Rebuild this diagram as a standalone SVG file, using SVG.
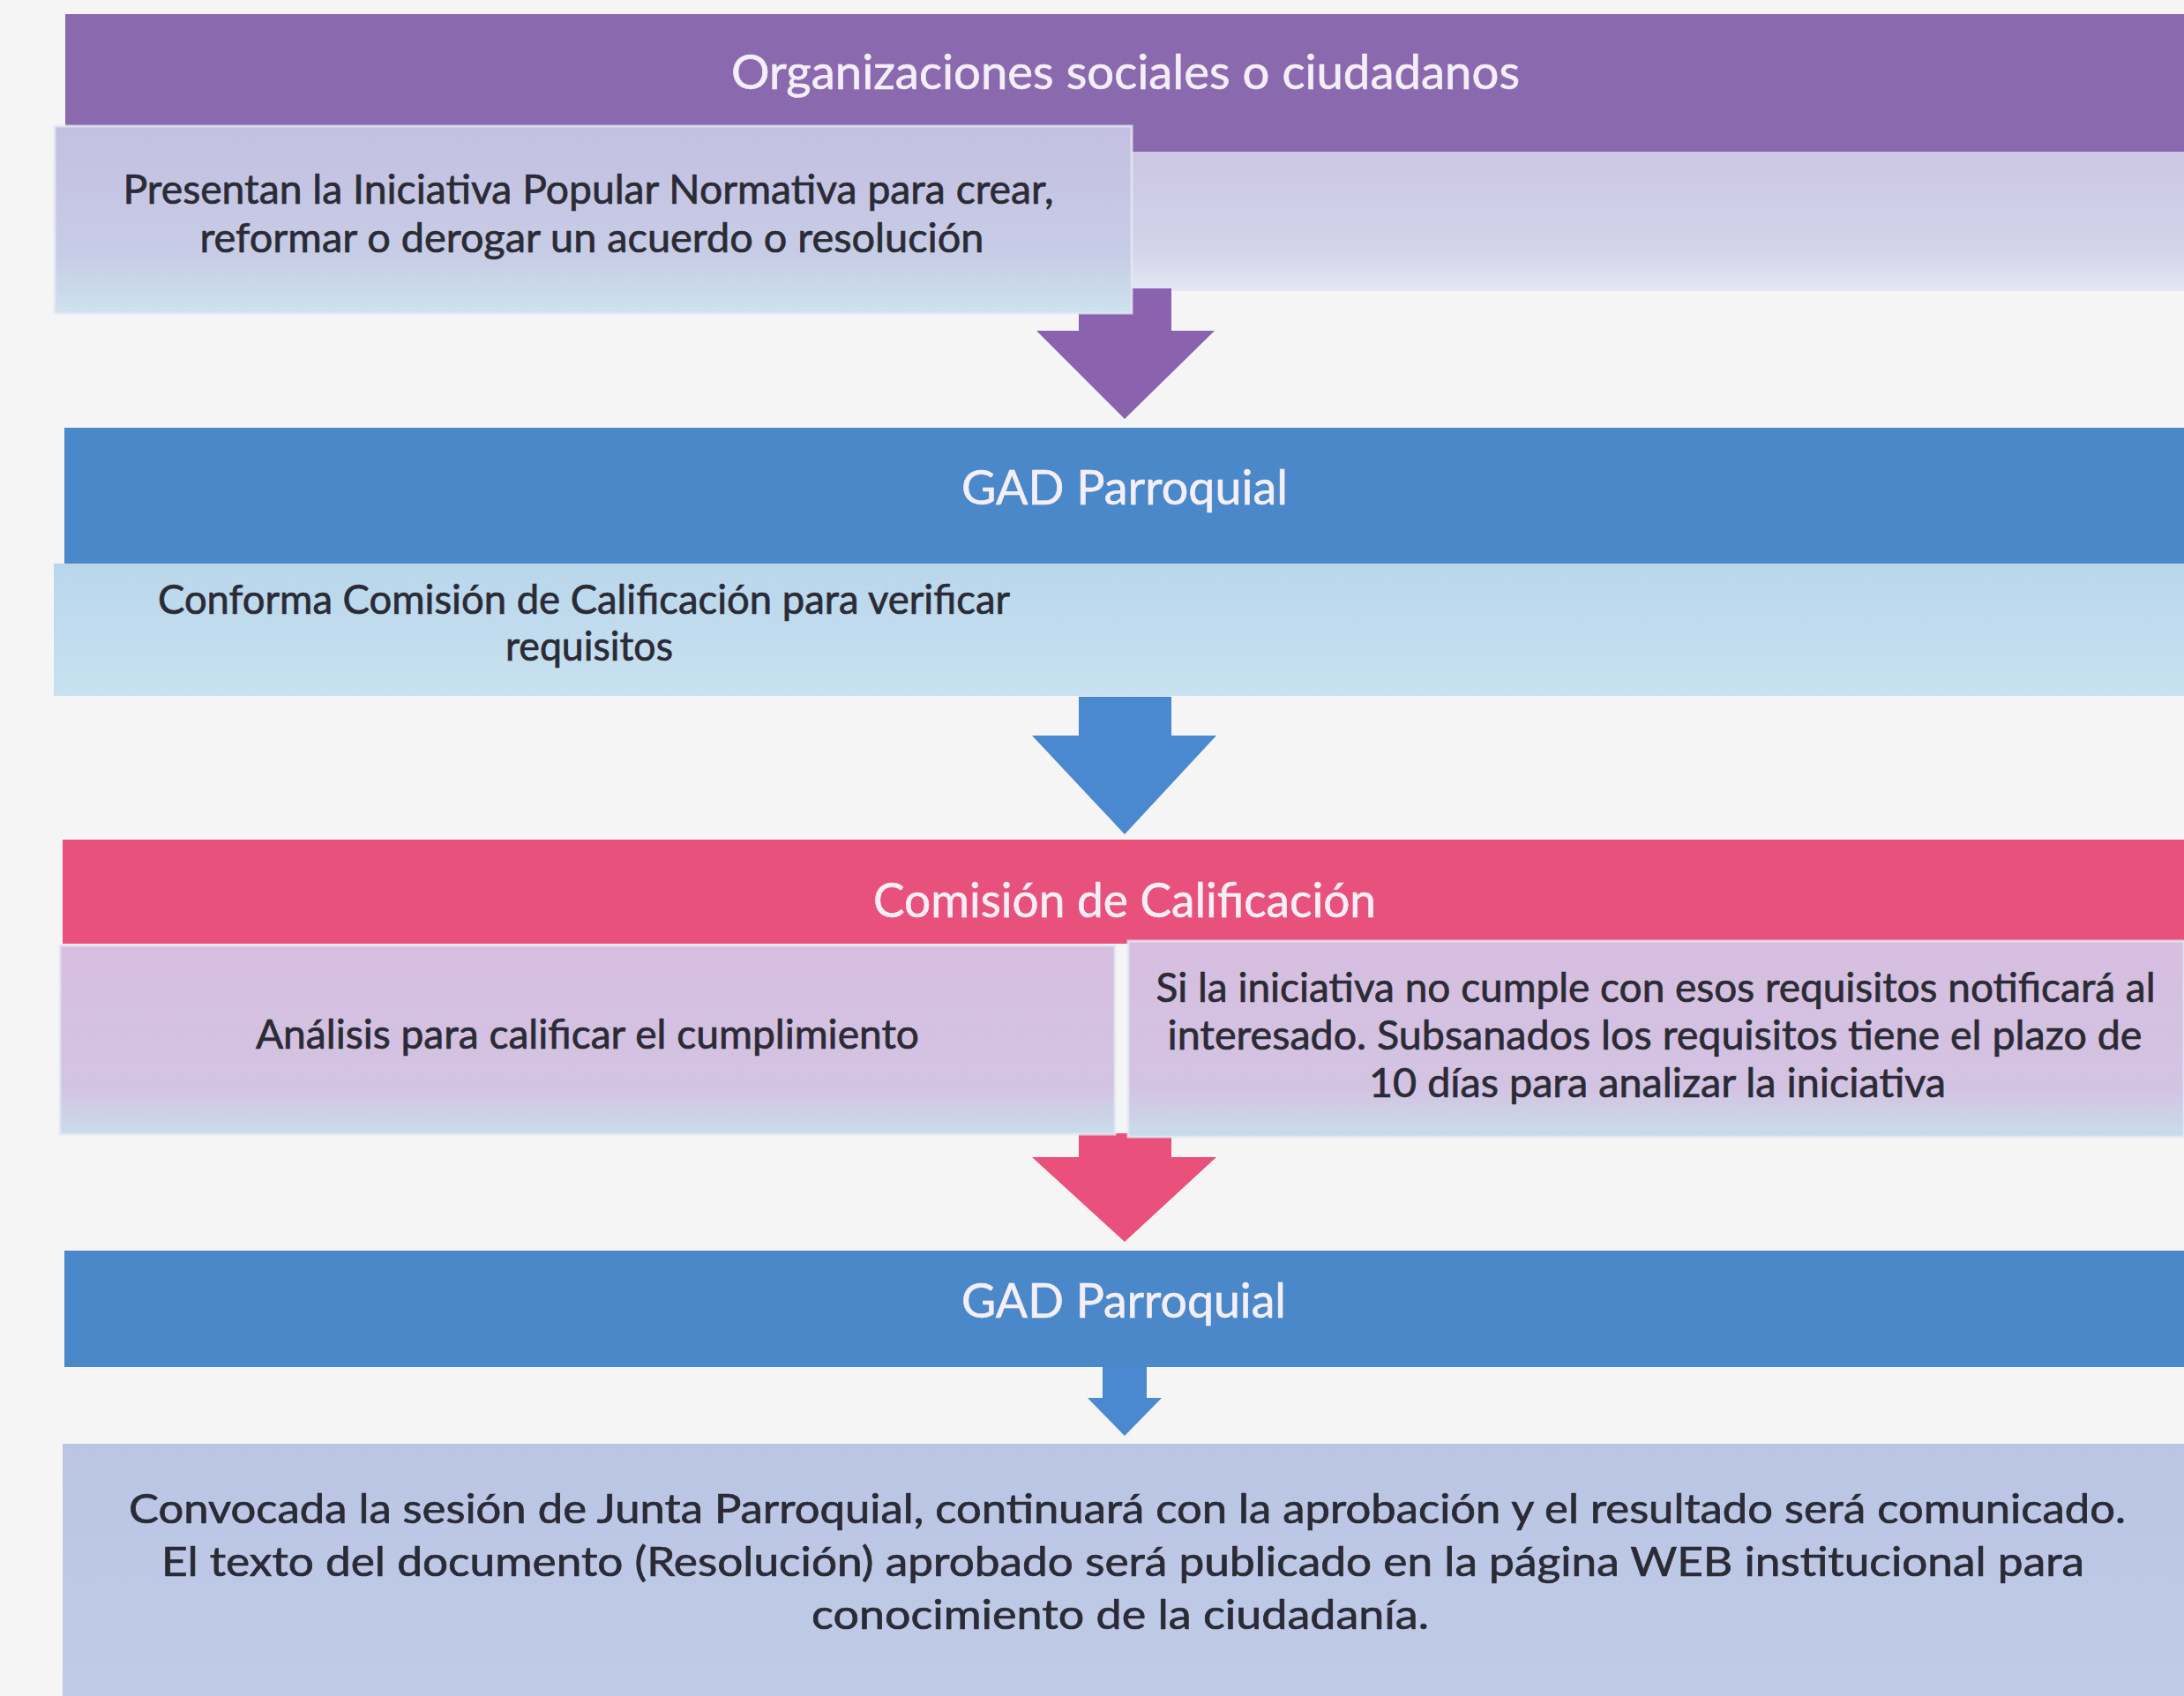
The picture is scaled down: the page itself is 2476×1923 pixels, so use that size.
<svg xmlns="http://www.w3.org/2000/svg" width="2476" height="1923" viewBox="0 0 2476 1923">
  <defs>
    <linearGradient id="gBox1" x1="0" y1="0" x2="0" y2="1">
      <stop offset="0" stop-color="#c3bfe0"/>
      <stop offset="0.7" stop-color="#c7cde6"/>
      <stop offset="1" stop-color="#cde2ee"/>
    </linearGradient>
    <linearGradient id="gBand1" x1="0" y1="0" x2="0" y2="1">
      <stop offset="0" stop-color="#cbc6e3"/>
      <stop offset="0.7" stop-color="#d3d3ea"/>
      <stop offset="1" stop-color="#e4e8f3"/>
    </linearGradient>
    <linearGradient id="gBox2" x1="0" y1="0" x2="0" y2="1">
      <stop offset="0" stop-color="#b9d6eb"/>
      <stop offset="1" stop-color="#c8e1f0"/>
    </linearGradient>
    <linearGradient id="gBox3" x1="0" y1="0" x2="0" y2="1">
      <stop offset="0" stop-color="#d6bedf"/>
      <stop offset="0.75" stop-color="#d3c3e2"/>
      <stop offset="1" stop-color="#c9dcec"/>
    </linearGradient>
    <linearGradient id="gBox4" x1="0" y1="0" x2="0" y2="1">
      <stop offset="0" stop-color="#b9c5e3"/>
      <stop offset="1" stop-color="#c0cbe7"/>
    </linearGradient>
  </defs>
  <style>
    .title { font-family: Lato, "Open Sans", "Liberation Sans", sans-serif; font-size: 54px; fill: #f4eff7; stroke: #f4eff7; stroke-width: 0.6; text-anchor: middle; }
    .body { font-family: Lato, "Open Sans", "Liberation Sans", sans-serif; font-size: 47px; fill: #2b2b36; stroke: #2b2b36; stroke-width: 0.7; text-anchor: middle; }
    .box { stroke: #e2e8f2; stroke-width: 3; stroke-opacity: 0.8; }
  </style>
  <rect width="2476" height="1923" fill="#f5f5f5"/>

  <!-- background band behind first box -->
  <rect x="1283" y="172" width="1193" height="158" fill="url(#gBand1)"/>

  <g id="connectors">
    <polygon id="arrow1" fill="#8a62ae" points="1223,327 1328,327 1328,375 1377,375 1275,475 1175,375 1223,375"/>
    <polygon id="arrow2" fill="#4a89cf" points="1223,790 1328,790 1328,834 1379,834 1275,946 1170,834 1223,834"/>
    <polygon id="arrow3" fill="#e9507b" points="1223,1285 1328,1285 1328,1312 1379,1312 1275,1408 1170,1312 1223,1312"/>
    <polygon id="arrow4" fill="#4a89cf" points="1250,1548 1300,1548 1300,1585 1317,1585 1275,1628 1233,1585 1250,1585"/>
  </g>

  <g id="node-organizaciones">
    <rect x="74" y="16" width="2402" height="156" fill="#8a69ae"/>
    <text class="title" x="1276" y="101" textLength="894" lengthAdjust="spacingAndGlyphs">Organizaciones sociales o ciudadanos</text>
  </g>

  <g id="node-presentan">
    <rect class="box" x="62" y="143" width="1221" height="212" fill="url(#gBox1)"/>
    <text class="body" x="667" y="231" textLength="1055" lengthAdjust="spacingAndGlyphs">Presentan la Iniciativa Popular Normativa para crear,</text>
    <text class="body" x="671" y="286" textLength="889" lengthAdjust="spacingAndGlyphs">reformar o derogar un acuerdo o resolución</text>
  </g>

  <g id="node-gad1">
    <rect x="73" y="485" width="2403" height="154" fill="#4b88c9"/>
    <text class="title" x="1275" y="572" textLength="370" lengthAdjust="spacingAndGlyphs">GAD Parroquial</text>
  </g>

  <g id="node-conforma">
    <rect x="61" y="639" width="2415" height="150" fill="url(#gBox2)"/>
    <text class="body" x="662" y="696" textLength="966" lengthAdjust="spacingAndGlyphs">Conforma Comisión de Calificación para verificar</text>
    <text class="body" x="668" y="749" textLength="190" lengthAdjust="spacingAndGlyphs">requisitos</text>
  </g>

  <g id="node-comision">
    <rect x="71" y="952" width="2405" height="118" fill="#e8517b"/>
    <text class="title" x="1275" y="1040" textLength="570" lengthAdjust="spacingAndGlyphs">Comisión de Calificación</text>
  </g>

  <g id="node-analisis">
    <rect class="box" x="68" y="1072" width="1196" height="214" fill="url(#gBox3)"/>
    <text class="body" x="666" y="1189" textLength="752" lengthAdjust="spacingAndGlyphs">Análisis para calificar el cumplimiento</text>
  </g>

  <g id="node-notifica">
    <rect class="box" x="1279" y="1067" width="1197" height="222" fill="url(#gBox3)"/>
    <text class="body" x="1877" y="1136" textLength="1133" lengthAdjust="spacingAndGlyphs">Si la iniciativa no cumple con esos requisitos notificará al</text>
    <text class="body" x="1876" y="1190" textLength="1105" lengthAdjust="spacingAndGlyphs">interesado. Subsanados los requisitos tiene el plazo de</text>
    <text class="body" x="1879" y="1244" textLength="654" lengthAdjust="spacingAndGlyphs">10 días para analizar la iniciativa</text>
  </g>

  <g id="node-gad2">
    <rect x="73" y="1418" width="2403" height="132" fill="#4b88c9"/>
    <text class="title" x="1274" y="1494" textLength="368" lengthAdjust="spacingAndGlyphs">GAD Parroquial</text>
  </g>

  <g id="node-convocada">
    <rect x="71" y="1637" width="2405" height="286" fill="url(#gBox4)"/>
    <text class="body" x="1278" y="1727" textLength="2264" lengthAdjust="spacingAndGlyphs">Convocada la sesión de Junta Parroquial, continuará con la aprobación y el resultado será comunicado.</text>
    <text class="body" x="1273" y="1787" textLength="2180" lengthAdjust="spacingAndGlyphs">El texto del documento (Resolución) aprobado será publicado en la página WEB institucional para</text>
    <text class="body" x="1270" y="1847" textLength="700" lengthAdjust="spacingAndGlyphs">conocimiento de la ciudadanía.</text>
  </g>
</svg>
